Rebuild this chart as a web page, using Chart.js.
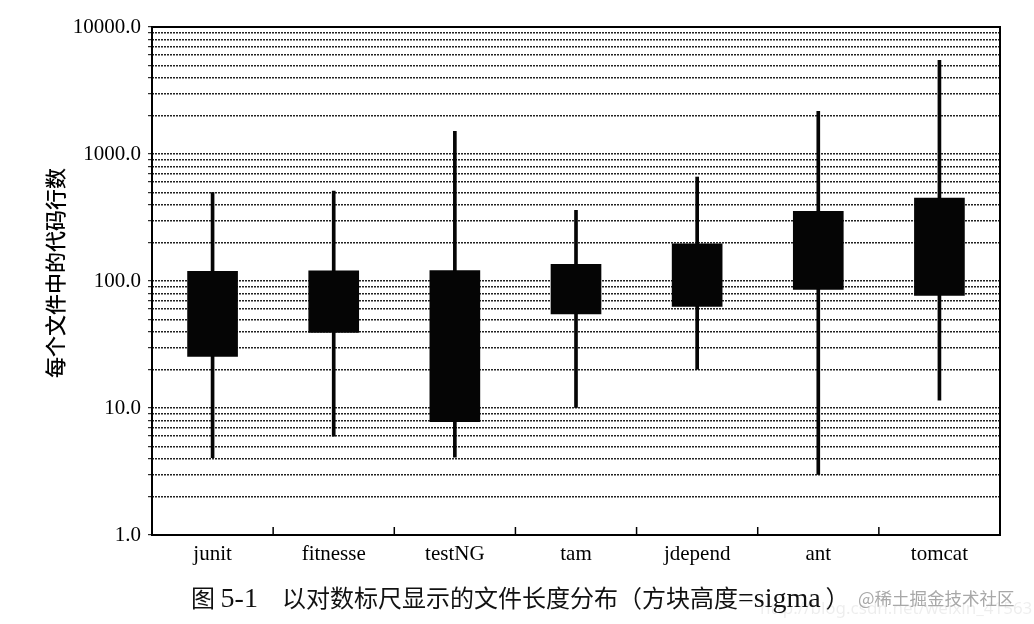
<!DOCTYPE html>
<html>
<head>
<meta charset="utf-8">
<script src="https://cdn.jsdelivr.net/npm/chart.js@4"></script>
<style>
  html, body { margin: 0; padding: 0; background: #fff; }
  #wrap { position: relative; width: 1034px; height: 624px; overflow: hidden; }
  canvas { position: absolute; left: 0; top: 0; }
  #caption { position: absolute; left: 191px; top: 581px; font-family: "Noto Sans CJK SC", sans-serif; font-size: 24px; color: #111; white-space: nowrap; line-height: 32px; }
  #caption .lat { font-family: "Liberation Serif", serif; font-size: 28px; }
  #wm { position: absolute; left: 858px; top: 585px; font-family: "Noto Sans CJK SC", sans-serif; font-size: 17.5px; color: #a8a8a8; white-space: nowrap; line-height: 26px; }
  #wm2 { position: absolute; left: 760px; top: 596px; font-family: "Noto Sans", sans-serif; font-size: 17px; color: rgba(0,0,0,0.07); white-space: nowrap; }
</style>
</head>
<body>
<div id="wrap">
  <canvas id="c" width="1034" height="624"></canvas>
  <div id="wm2">http://blog.csdn.net/weixin_41563161</div>
  <div id="caption">图<span class="lat">&#8201;5-1</span><span style="margin-left:24px">以对数标尺显示的文件长度分布（方块高度<span class="lat">=sigma</span>&#8201;）</span></div>
  <div id="wm">@稀土掘金技术社区</div>
</div>
<script>
// ---- data ----
const categories = ["junit", "fitnesse", "testNG", "tam", "jdepend", "ant", "tomcat"];
const boxLow   = [25.5, 39.4, 7.8, 55, 63, 86, 77];
const boxHigh  = [119, 120, 121, 135, 196, 354, 450];
const whiskLow = [4.07, 6.0, 4.1, 10.1, 20.2, 3.0, 11.5];
const whiskHigh= [497, 511, 1510, 360, 659, 2170, 5470];
const yMajorTicks = [1, 10, 100, 1000, 10000];
const yTitle = "每个文件中的代码行数";

const frame = {
  id: 'frame',
  afterDraw(chart) {
    const {ctx, chartArea: a, scales: {x}} = chart;
    ctx.save();
    ctx.strokeStyle = '#000';
    ctx.lineWidth = 2;
    ctx.strokeRect(a.left, a.top, a.right - a.left, a.bottom - a.top);
    ctx.lineWidth = 1.5;
    for (let i = 0; i < categories.length - 1; i++) {
      const px = (x.getPixelForValue(i) + x.getPixelForValue(i + 1)) / 2;
      ctx.beginPath();
      ctx.moveTo(px, a.bottom);
      ctx.lineTo(px, a.bottom - 8);
      ctx.stroke();
    }
    // y axis title
    ctx.translate(55, 273);
    ctx.rotate(-Math.PI / 2);
    ctx.fillStyle = '#000';
    ctx.font = '500 21px "Noto Sans CJK SC"';
    ctx.textAlign = 'center';
    ctx.textBaseline = 'middle';
    ctx.fillText(yTitle, 0, 0);
    ctx.restore();
  }
};

new Chart(document.getElementById('c'), {
  type: 'bar',
  data: {
    labels: categories,
    datasets: [
      {
        label: 'range',
        data: categories.map((c, i) => [whiskLow[i], whiskHigh[i]]),
        backgroundColor: '#050505',
        borderWidth: 0,
        borderSkipped: false,
        barThickness: 3,
        grouped: false,
        order: 2
      },
      {
        label: 'sigma',
        data: categories.map((c, i) => [boxLow[i], boxHigh[i]]),
        backgroundColor: '#050505',
        borderWidth: 0,
        borderSkipped: false,
        barThickness: 50,
        grouped: false,
        order: 1
      }
    ]
  },
  options: {
    responsive: false,
    animation: false,
    devicePixelRatio: 1,
    layout: { padding: { top: 27, right: 34, left: 0, bottom: 0 } },
    plugins: { legend: { display: false }, tooltip: { enabled: false } },
    scales: {
      x: {
        type: 'category',
        grid: { display: false, drawTicks: false },
        border: { display: false },
        ticks: { color: '#000', font: { family: 'Liberation Serif', size: 21 }, padding: 7, maxRotation: 0 },
        afterFit: s => { s.height = 89; }
      },
      y: {
        type: 'logarithmic',
        min: 1,
        max: 10000,
        afterBuildTicks: s => {
          s.ticks = s.ticks.filter(t => {
            const m = t.value / Math.pow(10, Math.floor(Math.log10(t.value) + 1e-9));
            return Math.abs(m - Math.round(m)) < 1e-6;
          });
        },
        grid: { color: '#222', lineWidth: 1.4, drawTicks: true, tickLength: 4, tickColor: '#000', tickWidth: 1 },
        border: { display: false, dash: [2, 1] },
        ticks: {
          autoSkip: false,
          color: '#000',
          padding: 7,
          font: { family: 'Liberation Serif', size: 21 },
          callback: v => yMajorTicks.includes(v) ? v.toFixed(1) : ''
        },
        title: { display: false },
        afterFit: s => { s.width = 152; }
      }
    }
  },
  plugins: [frame]
});
</script>
</body>
</html>
